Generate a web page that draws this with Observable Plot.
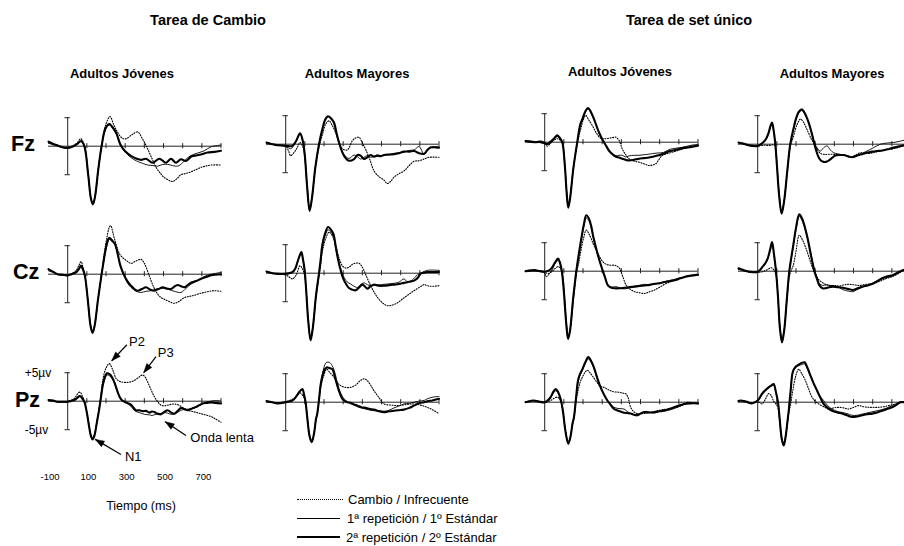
<!DOCTYPE html>
<html><head><meta charset="utf-8">
<script src="https://cdn.jsdelivr.net/npm/d3@7"></script>
<script src="https://cdn.jsdelivr.net/npm/@observablehq/plot@0.6"></script>
<style>
html,body{margin:0;padding:0;background:#fff;overflow:hidden;}
#root{position:relative;width:904px;height:546px;overflow:hidden;font-family:"Liberation Sans",Arial,sans-serif;color:#000;}
.lbl{position:absolute;white-space:nowrap;line-height:1;transform:translate(-50%,-50%);}
.h1{font-weight:bold;font-size:14.5px;}
.h2{font-weight:bold;font-size:13px;}
.row{font-weight:bold;font-size:21.5px;transform:translate(0,-50%);}
.leg{position:absolute;font-size:13px;white-space:nowrap;line-height:1;transform:translate(0,-50%);}
.sw{position:absolute;height:0;}
.panel{position:absolute;}
</style></head>
<body><div id="root"></div>
<script>
// ---------- data (time ms, amplitude µV) ----------
const TITLES = ["Tarea de Cambio", "Tarea de set único"];
const GROUPS = ["Adultos Jóvenes", "Adultos Mayores", "Adultos Jóvenes", "Adultos Mayores"];
const SITES = ["Fz", "Cz", "Pz"];
const LEGEND = ["Cambio / Infrecuente", "1ª repetición / 1º Estándar", "2ª repetición / 2º Estándar"];
const TIME_TICKS = [100, 200, 300, 400, 500, 600, 700, 800];
const TIME_LABELS = [-100, 100, 300, 500, 700];
const SCALE_BAR = [-5, 5];
const SCALE_LABELS = ["-5µv", "+5µv"];

// Fz — Tarea de Cambio, Jóvenes
const FZ1_DOT = [[-100,0.6],[-75,0.3],[-50,0],[-25,-0.2],[0,-0.2],[30,0.1],[50,0.6],[68,1.3],[87,0.2],[107,-4.8],[122,-9.2],[132,-10.1],[143,-8.8],[160,-4],[177,0],[197,3.6],[221,5.2],[240,3.8],[261,2.4],[285,1.4],[304,1.3],[335,2.0],[365,2.5],[390,1.3],[409,0.1],[435,-1.8],[461,-3.7],[485,-4.8],[504,-5.5],[530,-6.0],[548,-6.2],[570,-5.7],[591,-5.0],[615,-4.8],[643,-4.5],[670,-4.1],[696,-3.7],[720,-3.5],[748,-3.3],[800,-3.3]];
const FZ1_THIN = [[-100,0.5],[-75,0.3],[-50,0],[-25,-0.3],[0,-0.4],[30,0],[50,0.3],[70,0.8],[87,0],[107,-5],[122,-9.3],[132,-10.1],[143,-8.8],[160,-4],[177,0],[197,2.9],[217,3.7],[237,3.0],[255,2.0],[275,0.2],[300,-1.0],[330,-2.0],[360,-2.6],[390,-3.0],[417,-3.3],[445,-3.4],[470,-3.5],[495,-3.2],[522,-3.2],[548,-3.4],[574,-3.5],[600,-2.9],[626,-2.0],[652,-1.5],[678,-1.2],[713,-0.8],[748,-0.1],[800,0.2]];
const FZ1_THICK = [[-100,0.8],[-75,0.4],[-50,0.1],[-25,-0.2],[0,-0.3],[30,0],[50,0.4],[70,0.9],[87,0],[107,-5],[122,-9.3],[132,-10.2],[143,-8.8],[160,-4],[177,0],[197,3.1],[217,3.9],[237,3.2],[255,2.2],[275,0.3],[300,-0.9],[330,-1.7],[360,-2.2],[383,-2.4],[409,-2.2],[443,-2.9],[478,-2.2],[513,-2.9],[539,-2.2],[565,-2.9],[591,-2.3],[617,-2.6],[645,-1.8],[675,-1.6],[700,-1.4],[730,-1.1],[765,-1.0],[800,-0.8]];
// Fz — Tarea de Cambio, Mayores
const FZ2_DOT = [[-100,0.1],[-70,0],[-43,-0.1],[0,-0.3],[15,-1.2],[26,-2.0],[45,-1.4],[60,-0.6],[75,0.3],[90,-0.5],[100,-2.5],[112,-7.2],[125,-11.2],[137,-9.3],[155,-4.2],[174,-0.5],[191,1.6],[210,3.6],[226,4.1],[243,3.3],[261,2.0],[278,0.5],[296,-0.8],[322,-1.0],[348,0.6],[365,1.1],[383,1.2],[400,0.2],[417,-0.9],[440,-2.8],[461,-4.7],[487,-5.7],[513,-6.3],[530,-6.9],[548,-6.5],[565,-5.8],[590,-5.2],[617,-4.7],[643,-3.8],[670,-3.0],[696,-2.9],[722,-2.6],[748,-2.3],[800,-2.3]];
const FZ2_THIN = [[-100,0.3],[-70,0],[-43,-0.2],[0,-0.3],[26,-0.8],[50,0.2],[75,1.8],[90,0.4],[100,-2],[112,-7.4],[125,-11.6],[137,-9.5],[155,-4],[174,0],[191,2.5],[206,4.2],[221,4.8],[237,4.4],[252,3.6],[265,1.8],[278,0.2],[304,-1.8],[330,-2.5],[357,-1.9],[374,-2.2],[391,-2.6],[409,-2.3],[426,-2.0],[443,-2.3],[461,-2.1],[478,-1.9],[496,-2.1],[513,-1.9],[540,-1.9],[565,-1.6],[590,-1.5],[617,-1.4],[645,-1.1],[670,-1.0],[696,-0.4],[722,-1.75],[740,-1.0],[756,-0.5],[800,-0.5]];
const FZ2_THICK = [[-100,0.3],[-70,0],[-43,-0.2],[0,-0.3],[35,-0.3],[55,0.6],[75,1.9],[90,0.5],[100,-2],[112,-7.5],[125,-11.7],[137,-9.5],[155,-4],[174,0],[191,2.6],[206,4.3],[221,4.9],[237,4.5],[252,3.8],[265,2.0],[278,0.3],[304,-2.0],[330,-2.9],[357,-2.6],[375,-1.9],[391,-2.0],[409,-2.6],[426,-2.3],[443,-1.9],[461,-2.2],[478,-2.0],[496,-2.1],[513,-1.9],[540,-1.8],[565,-1.75],[590,-1.6],[617,-1.3],[645,-1.3],[670,-1.2],[685,-1.4],[696,-1.6],[722,-1.7],[740,-1.0],[756,-0.6],[800,-0.6]];
// Fz — Set único, Jóvenes
const FZ3_DOT = [[-100,0.2],[-60,0],[-30,0.1],[0,0],[14,-0.7],[30,-0.2],[50,0.4],[66,0.6],[80,0.4],[92,-0.3],[105,-4],[115,-8.8],[123,-11.2],[132,-9.8],[150,-4.5],[170,-0.3],[188,2.3],[201,3.9],[214,4.7],[228,4.0],[249,2.9],[270,1.6],[292,0.7],[310,0.6],[336,0.7],[355,0.8],[370,0.9],[388,0.3],[405,-1.2],[423,-2.2],[440,-2.9],[465,-3.3],[492,-3.5],[518,-3.8],[544,-4.1],[562,-4.0],[579,-3.8],[597,-3.0],[614,-2.3],[640,-2.0],[666,-1.75],[692,-1.5],[718,-1.2],[753,-0.8],[800,-0.5]];
const FZ3_THIN = [[-100,0.2],[-50,0.1],[0,-0.3],[14,-0.4],[31,0],[50,0.6],[66,1.0],[80,0.6],[92,0],[105,-4],[115,-8.9],[123,-11.3],[132,-9.9],[150,-4.5],[170,0],[185,2.9],[197,4.0],[212,5.2],[226,5.8],[240,5.2],[257,4.0],[270,2.8],[283,1.7],[304,0.3],[320,-0.6],[336,-1.5],[353,-2.0],[370,-2.4],[388,-2.3],[405,-2.3],[423,-2.6],[440,-2.4],[465,-2.3],[492,-2.3],[518,-2.2],[544,-2.1],[562,-2.0],[590,-1.9],[620,-1.8],[649,-1.3],[675,-1.1],[718,-0.9],[770,-0.5],[800,-0.4]];
const FZ3_THICK = [[-100,0.2],[-75,0.1],[-47,0],[-20,0.1],[0,-0.2],[15,-0.3],[31,0.1],[50,0.7],[66,1.2],[80,0.7],[92,0],[105,-4],[115,-9],[123,-11.5],[132,-10],[150,-4.5],[170,0],[185,3],[197,4.1],[212,5.4],[226,6.0],[240,5.4],[257,4.1],[270,2.9],[283,1.75],[304,0.3],[320,-0.6],[336,-1.5],[353,-2.1],[370,-2.5],[388,-2.7],[405,-2.9],[423,-3.1],[440,-3.2],[465,-3.1],[492,-2.9],[518,-2.8],[544,-2.7],[570,-2.5],[596,-2.3],[623,-2.0],[649,-1.6],[675,-1.4],[701,-1.2],[727,-1.0],[753,-0.9],[800,-0.6]];
// Fz — Set único, Mayores
const FZ4_DOT = [[-100,0.3],[-75,0.1],[-47,-0.2],[0,-0.3],[31,-0.2],[50,-0.2],[66,-0.2],[80,-0.1],[92,-0.3],[100,-3.2],[112,-8.5],[125,-11.8],[138,-10],[155,-4.7],[170,-0.5],[188,1.5],[205,3.4],[223,4.4],[240,3.8],[257,2.6],[280,0.9],[301,-0.3],[327,-1.6],[353,-1.8],[379,-1.75],[405,-1.8],[431,-1.9],[457,-2.0],[483,-2.3],[510,-1.9],[536,-1.5],[562,-1.6],[588,-1.6],[614,-1.4],[640,-1.2],[666,-1.0],[692,-0.9],[730,-0.6],[765,-0.2],[800,0]];
const FZ4_THIN = [[-100,0.2],[-75,0.1],[-47,-0.2],[0,-0.2],[31,0.4],[45,1.0],[57,1.9],[67,3.0],[75,3.6],[83,2.4],[92,0],[100,-3.4],[112,-8.8],[125,-12],[138,-9.9],[155,-4.5],[170,0],[188,2.7],[200,4.3],[215,5.5],[231,5.9],[248,5.2],[266,3.8],[280,2.3],[292,0.8],[305,-0.4],[327,-1.2],[345,-0.6],[362,-0.3],[379,-1.0],[396,-1.5],[420,-1.7],[445,-1.9],[466,-2.0],[485,-2.2],[501,-2.3],[520,-2.0],[540,-1.7],[570,-1.2],[600,-0.7],[640,0],[675,0.2],[710,0.3],[740,0.5],[765,0.7],[800,0.8]];
const FZ4_THICK = [[-100,0.3],[-75,0.1],[-47,-0.2],[0,-0.3],[31,0.4],[45,1.0],[57,2.0],[67,3.2],[75,3.8],[83,2.5],[92,0],[100,-3.5],[112,-9],[125,-12.2],[138,-10],[155,-4.5],[170,0],[188,2.9],[200,4.5],[215,5.7],[231,6.1],[248,5.3],[266,3.8],[280,2.2],[292,0.6],[305,-1.1],[318,-2.3],[331,-2.9],[344,-3.1],[357,-3.1],[370,-2.9],[388,-2.4],[405,-2.0],[427,-1.9],[449,-1.9],[470,-2.1],[492,-2.3],[510,-2.1],[527,-1.9],[549,-1.7],[570,-1.5],[597,-1.3],[623,-1.2],[650,-1.1],[675,-0.9],[710,-0.6],[765,-0.2],[800,0]];

// Cz — Tarea de Cambio, Jóvenes
const CZ1_DOT = [[-100,0.8],[-75,0.4],[-52,0],[-25,-0.1],[0,-0.2],[20,0.1],[43,0.6],[58,1.5],[70,2.2],[80,1.2],[90,-0.2],[105,-4.3],[120,-9],[130,-10.1],[141,-8.9],[158,-4.5],[177,0],[190,3.5],[205,6.5],[218,8.3],[225,8.5],[238,7.0],[252,5.3],[270,3.6],[287,2.9],[310,2.3],[330,1.9],[355,2.3],[383,2.6],[400,1.9],[426,-0.3],[448,-2.2],[470,-3.5],[487,-4.1],[504,-4.4],[530,-4.8],[556,-5.1],[580,-4.8],[609,-4.1],[635,-3.9],[661,-3.7],[687,-3.4],[713,-3.2],[740,-3.0],[765,-2.9],[800,-3.0]];
const CZ1_THIN = [[-100,0.6],[-75,0.3],[-52,-0.1],[-25,-0.2],[0,-0.3],[20,0],[43,0.3],[58,0.8],[70,1.3],[80,0.7],[90,-0.3],[105,-4.5],[120,-9.1],[130,-10.2],[141,-8.9],[158,-4.5],[177,0],[190,2.6],[200,4.4],[210,5.7],[217,6.1],[230,5.8],[247,5.1],[262,3.3],[275,1.4],[296,-0.4],[313,-1.6],[330,-2.3],[357,-3.0],[383,-3.2],[409,-3.0],[435,-2.9],[461,-2.6],[483,-2.5],[504,-2.5],[530,-2.7],[556,-3.0],[591,-3.2],[617,-2.5],[643,-1.75],[670,-1.3],[696,-0.8],[713,-0.4],[748,0],[800,0.3]];
const CZ1_THICK = [[-100,0.9],[-75,0.4],[-52,0],[-25,-0.1],[0,-0.2],[20,0],[43,0.3],[58,0.9],[70,1.5],[80,0.8],[90,-0.3],[105,-4.5],[120,-9.2],[130,-10.3],[141,-9],[158,-4.5],[177,0],[190,2.8],[200,4.7],[210,6.0],[217,6.4],[230,6.0],[247,5.3],[262,3.4],[275,1.5],[296,-0.3],[313,-1.3],[330,-2.0],[348,-2.6],[365,-2.9],[387,-2.6],[409,-2.3],[430,-2.7],[452,-2.9],[474,-2.6],[496,-2.3],[517,-2.5],[539,-2.6],[556,-2.2],[574,-1.9],[591,-2.1],[609,-2.3],[626,-1.9],[643,-1.5],[670,-1.2],[696,-0.8],[722,-0.5],[748,-0.2],[800,0]];
// Cz — Tarea de Cambio, Mayores
const CZ2_DOT = [[-100,0.2],[-70,0],[-43,-0.2],[0,-0.3],[20,-0.7],[35,-1.0],[55,-0.3],[75,1.3],[90,0.6],[99,-0.5],[108,-3.5],[118,-8.2],[130,-11.4],[142,-9.4],[158,-4.3],[174,-0.5],[183,1.5],[191,3.7],[208,6.0],[226,7.2],[243,6.6],[261,4.9],[278,2.7],[296,1.3],[313,0.9],[330,1.05],[350,1.6],[370,1.8],[385,1.7],[400,1.05],[417,-0.2],[435,-1.6],[456,-3.0],[478,-4.2],[505,-5.2],[530,-5.7],[555,-5.6],[583,-5.2],[610,-4.5],[635,-3.9],[660,-3.3],[687,-2.7],[710,-2.2],[722,-2.0],[740,-2.2],[756,-2.3],[800,-2.2]];
const CZ2_THIN = [[-100,0.3],[-70,0],[-43,-0.1],[0,-0.2],[35,0.1],[50,0.7],[61,1.8],[72,2.9],[82,3.6],[90,2.5],[99,0.5],[108,-3.5],[118,-8.4],[130,-11.6],[142,-9.4],[158,-4],[174,0],[183,2.3],[191,4.6],[205,6.6],[221,7.6],[235,7.3],[249,6.4],[262,4.2],[273,2.5],[287,0.7],[301,-0.5],[320,-1.5],[339,-1.9],[357,-2.3],[374,-2.5],[391,-2.0],[409,-1.7],[426,-2.0],[443,-2.2],[470,-2.1],[500,-2.0],[530,-1.9],[560,-1.8],[590,-1.6],[617,-1.0],[635,-1.5],[660,-1.2],[687,-0.3],[710,0.1],[739,0.5],[800,0.5]];
const CZ2_THICK = [[-100,0.3],[-70,0],[-43,-0.1],[0,-0.1],[35,0.2],[50,0.8],[61,1.9],[72,3.0],[82,3.7],[90,2.5],[99,0.5],[108,-3.5],[118,-8.5],[130,-11.8],[142,-9.5],[158,-4],[174,0],[183,2.5],[191,4.9],[205,6.9],[221,8.1],[235,7.7],[249,6.9],[262,4.5],[273,2.5],[287,0.5],[301,-1.0],[315,-1.9],[330,-2.6],[348,-2.9],[365,-3.0],[383,-2.5],[400,-2.0],[413,-2.3],[426,-2.7],[443,-2.3],[461,-2.0],[487,-2.2],[513,-2.2],[540,-2.1],[565,-2.0],[590,-1.9],[617,-1.7],[645,-1.5],[670,-1.3],[690,-0.8],[704,-0.1],[722,0.1],[739,0.2],[800,0.2]];
// Cz — Set único, Jóvenes
const CZ3_DOT = [[-100,0],[-75,0.1],[-52,0],[-25,0.1],[0,-0.2],[20,-0.4],[40,0],[52,0.4],[70,0.8],[85,0.4],[95,-1],[105,-5],[115,-9.5],[124,-11.5],[134,-10],[150,-5],[168,0],[178,1.5],[188,3.4],[203,5.8],[217,7.2],[235,6.3],[252,4.9],[270,3.6],[287,2.5],[305,1.6],[322,1.2],[345,1.05],[365,1.05],[380,0.8],[391,0.5],[408,-1.0],[426,-2.5],[448,-3.2],[470,-3.6],[496,-3.8],[522,-3.9],[548,-3.6],[574,-3.3],[600,-2.8],[626,-2.3],[652,-1.9],[678,-1.6],[704,-1.3],[730,-1.0],[765,-0.8],[800,-0.7]];
const CZ3_THIN = [[-100,0.1],[-75,0.2],[-52,0.1],[-25,0],[0,-0.3],[9,-1.0],[25,-0.4],[40,0.3],[52,1.2],[70,1.9],[80,1.3],[90,-0.2],[100,-3.5],[112,-8.9],[122,-11.8],[132,-10.4],[148,-5],[165,0],[178,2.8],[191,5.4],[205,7.9],[217,9.3],[230,8.9],[243,7.6],[252,6.1],[265,4.3],[278,2.7],[291,1.3],[304,0],[317,-1.3],[330,-2.5],[348,-2.8],[370,-2.7],[390,-2.9],[410,-3.1],[435,-3.0],[460,-2.7],[490,-2.5],[520,-2.3],[550,-2.4],[580,-2.2],[610,-2.0],[640,-1.7],[670,-1.5],[700,-1.2],[730,-1.0],[765,-0.7],[800,-0.6]];
const CZ3_THICK = [[-100,0],[-75,0.1],[-52,0.2],[-25,0],[0,-0.1],[20,0.1],[35,0.5],[52,1.4],[70,2.2],[80,1.5],[90,-0.1],[100,-3.5],[112,-9.0],[122,-11.9],[132,-10.5],[148,-5],[165,0],[178,3.0],[191,5.7],[205,8.3],[217,9.8],[230,9.3],[243,7.9],[252,6.3],[265,4.5],[278,2.8],[291,1.3],[304,0],[317,-1.3],[330,-2.5],[348,-2.9],[365,-3.0],[390,-3.0],[417,-2.9],[443,-2.8],[470,-2.7],[496,-2.6],[522,-2.5],[548,-2.4],[574,-2.2],[600,-2.1],[626,-1.9],[652,-1.75],[678,-1.6],[704,-1.3],[730,-1.0],[760,-0.8],[800,-0.6]];
// Cz — Set único, Mayores
const CZ4_DOT = [[-100,0.3],[-75,0.1],[-43,-0.2],[0,-0.2],[26,-0.1],[52,0.3],[70,0.6],[85,0.2],[96,-0.8],[106,-4.6],[116,-9.5],[127,-12],[138,-10.3],[152,-5.2],[165,-1],[176,0.2],[186,1.05],[200,3.5],[217,6.3],[235,5.4],[252,4.0],[270,2.2],[287,0.5],[305,-0.8],[322,-1.6],[348,-2.2],[374,-2.5],[400,-2.5],[426,-2.6],[452,-2.4],[478,-2.3],[504,-2.4],[530,-2.5],[565,-2.3],[600,-2.2],[635,-1.8],[670,-1.3],[705,-0.9],[740,-0.3],[760,0.2],[800,0.3]];
const CZ4_THIN = [[-100,0.4],[-75,0.2],[-43,-0.1],[0,-0.2],[26,0.7],[40,1.3],[52,2.1],[65,3.6],[75,4.9],[85,2.9],[96,-0.1],[106,-4.4],[116,-9.8],[127,-12.3],[138,-10.4],[152,-5],[165,0],[176,2.4],[186,4.4],[200,7.3],[217,9.6],[232,8.9],[248,7.3],[261,5.6],[278,3.0],[296,0.3],[309,-1.0],[322,-2.2],[340,-2.5],[360,-2.4],[380,-2.5],[400,-2.6],[425,-2.9],[450,-3.3],[475,-3.5],[496,-3.6],[515,-3.3],[540,-2.9],[570,-2.5],[600,-2.1],[630,-1.6],[660,-1.2],[690,-1.0],[720,-0.5],[750,0],[800,0.2]];
const CZ4_THICK = [[-100,0.5],[-75,0.2],[-43,-0.1],[0,-0.1],[26,0.8],[40,1.4],[52,2.2],[65,3.8],[75,5.1],[85,3.0],[96,-0.1],[106,-4.5],[116,-10],[127,-12.5],[138,-10.5],[152,-5],[165,0],[176,2.5],[186,4.6],[200,7.6],[217,10.0],[232,9.2],[248,7.5],[261,5.7],[278,2.8],[296,0],[309,-1.3],[322,-2.5],[338,-3.0],[353,-3.0],[372,-2.8],[391,-2.7],[417,-2.8],[443,-2.9],[470,-3.1],[496,-3.3],[522,-3.0],[548,-2.7],[574,-2.5],[600,-2.2],[626,-1.7],[652,-1.2],[678,-0.9],[704,-0.7],[722,-0.4],[739,-0.1],[760,0.2],[800,0.3]];

// Pz — Tarea de Cambio, Jóvenes
const PZ1_DOT = [[-100,0.2],[-75,0],[-52,-0.1],[-25,-0.1],[0,0],[35,0.5],[50,1.2],[64,1.6],[78,0.8],[87,0],[100,-1.8],[112,-4.3],[122,-6.0],[130,-6.5],[140,-5.8],[152,-3.6],[165,-1.0],[175,1.5],[183,3.7],[200,5.8],[217,6.6],[235,5.5],[252,4.0],[265,3.6],[278,3.4],[300,3.3],[330,3.4],[355,3.8],[375,4.3],[391,4.6],[405,4.2],[417,3.4],[435,2.0],[452,0.8],[470,-0.1],[487,-0.7],[504,-0.8],[522,-0.7],[548,-0.5],[574,-0.6],[600,-1.1],[626,-1.6],[650,-1.8],[675,-2.0],[696,-2.2],[720,-2.4],[748,-2.7],[770,-3.1],[800,-3.7]];
const PZ1_THIN = [[-100,0.1],[-75,0],[-52,-0.1],[-25,-0.2],[0,-0.1],[35,0.2],[50,0.5],[64,0.8],[78,0.3],[87,-0.1],[100,-2.0],[112,-4.4],[122,-6.1],[130,-6.6],[140,-5.9],[152,-3.8],[165,-1.3],[175,0.9],[183,2.6],[195,4.0],[205,4.6],[220,4.4],[235,3.8],[248,2.8],[261,1.5],[272,0.6],[282,0.1],[304,-0.3],[330,-0.9],[350,-1.7],[374,-2.0],[400,-2.3],[426,-2.4],[440,-2.5],[460,-2.3],[480,-2.2],[504,-2.0],[522,-2.1],[540,-2.3],[560,-2.2],[580,-1.8],[600,-1.5],[626,-1.4],[650,-1.3],[675,-1.0],[696,-0.6],[720,-0.2],[748,0],[770,0.1],[800,0]];
const PZ1_THICK = [[-100,0.2],[-75,0.1],[-52,-0.1],[-25,-0.1],[0,-0.1],[35,0.2],[50,0.6],[64,0.9],[78,0.4],[87,-0.1],[100,-2.0],[112,-4.5],[122,-6.2],[130,-6.7],[140,-6.0],[152,-3.8],[165,-1.3],[175,1.0],[183,2.8],[195,4.3],[205,4.9],[220,4.7],[235,4.0],[248,2.9],[261,1.6],[272,0.7],[282,0.2],[304,-0.2],[330,-0.6],[345,-1.2],[357,-1.6],[374,-1.6],[391,-1.75],[409,-1.7],[426,-2.0],[440,-1.8],[452,-1.9],[470,-2.2],[487,-2.3],[504,-1.9],[522,-1.6],[540,-2.0],[556,-2.2],[574,-1.7],[591,-1.2],[609,-1.4],[626,-1.6],[648,-1.3],[670,-1.0],[687,-0.7],[704,-0.4],[726,-0.3],[748,-0.2],[770,-0.3],[800,-0.4]];
// Pz — Tarea de Cambio, Mayores
const PZ2_DOT = [[-100,0.1],[-70,0],[-43,-0.1],[0,0.1],[35,0.5],[55,1.0],[70,1.5],[78,1.6],[92,1.0],[104,0],[112,-2.4],[125,-5.8],[136,-6.8],[148,-5.4],[158,-3.0],[165,-2.0],[175,0.5],[183,2.6],[198,4.6],[214,5.8],[230,5.2],[252,4.4],[270,3.4],[287,2.9],[310,2.6],[339,2.6],[365,3.0],[390,3.8],[409,4.1],[425,3.8],[443,3.0],[461,2.0],[487,0.8],[513,-0.3],[548,-0.5],[583,-0.6],[610,-0.5],[635,-0.4],[660,-0.3],[687,-0.4],[713,-0.6],[739,-0.9],[770,-1.4],[800,-2.0]];
const PZ2_THIN = [[-100,0.1],[-70,0],[-43,-0.2],[0,0],[35,0.3],[55,1.0],[70,1.7],[87,2.2],[96,1.2],[104,0],[112,-2.5],[125,-6.0],[136,-7.0],[148,-5.5],[158,-3.0],[165,-2.0],[175,0.8],[183,3.3],[195,5.5],[205,6.6],[214,7.0],[228,7.0],[243,6.4],[260,4.8],[270,3.2],[287,1.6],[304,0.6],[322,0.1],[339,-0.3],[357,-0.5],[374,-0.8],[395,-1.0],[417,-1.2],[440,-1.4],[461,-1.5],[487,-1.5],[513,-1.6],[540,-1.4],[565,-1.0],[590,-0.7],[617,-0.3],[645,-0.2],[670,0],[696,0.2],[722,0.3],[739,0.6],[770,0.9],[800,1.0]];
const PZ2_THICK = [[-100,0.2],[-70,0],[-43,-0.2],[0,0],[35,0.3],[55,1.0],[70,1.75],[87,2.3],[96,1.3],[104,0],[112,-2.5],[125,-6.0],[136,-7.0],[148,-5.5],[158,-3.0],[165,-2.0],[175,0.8],[183,3.2],[195,5.0],[205,5.8],[214,6.1],[228,6.0],[243,5.8],[260,4.0],[278,2.0],[292,0.8],[304,0.3],[322,0],[339,-0.1],[357,-0.4],[374,-0.6],[395,-0.9],[417,-1.0],[440,-1.2],[461,-1.3],[487,-1.6],[513,-1.75],[540,-1.6],[565,-1.5],[590,-1.4],[617,-1.3],[645,-1.0],[670,-0.6],[696,-0.2],[722,0],[744,0.2],[765,0.3],[800,0.6]];
// Pz — Set único, Jóvenes
const PZ3_DOT = [[-100,0.1],[-75,0.2],[-56,0.2],[-30,0.1],[0,0],[15,0.1],[31,0.3],[50,0.7],[66,0.9],[80,0.4],[95,-1.5],[108,-4.8],[123,-7.0],[135,-6.0],[145,-4],[153,-2.8],[163,0],[174,2.0],[185,3.5],[197,4.4],[210,5.2],[223,5.6],[240,5.0],[266,3.8],[290,2.8],[310,2.6],[327,2.3],[344,2.0],[365,1.8],[388,1.75],[405,1.6],[423,1.5],[435,0.8],[449,-0.9],[466,-1.7],[483,-2.0],[510,-2.0],[536,-1.9],[562,-1.7],[588,-1.5],[614,-1.3],[640,-1.2],[666,-1.1],[692,-0.9],[718,-0.5],[744,0],[770,-0.1],[800,-0.2]];
const PZ3_THIN = [[-100,0],[-75,0.1],[-56,0.3],[-30,0],[0,-0.1],[15,0.2],[31,0.7],[45,1.6],[57,2.0],[70,1.6],[83,0.5],[95,-1.5],[108,-5],[123,-7.2],[135,-6.0],[145,-3.8],[153,-2.6],[163,0.5],[174,3.6],[185,4.8],[197,5.6],[212,6.8],[228,7.6],[243,7.0],[257,5.9],[275,4.0],[292,2.5],[310,1.3],[327,0.3],[345,-0.4],[362,-0.9],[383,-1.1],[414,-1.2],[430,-1.6],[449,-2.0],[470,-2.2],[492,-2.1],[510,-1.8],[530,-1.6],[550,-1.8],[575,-1.9],[600,-1.6],[623,-1.3],[649,-1.4],[675,-1.1],[701,-0.7],[727,-0.4],[760,-0.1],[800,-0.3]];
const PZ3_THICK = [[-100,0],[-75,0.2],[-56,0.3],[-30,0.1],[0,0],[15,0.3],[31,0.9],[45,1.8],[57,2.3],[70,1.8],[83,0.6],[95,-1.5],[108,-5],[123,-7.3],[135,-6.0],[145,-3.8],[153,-2.6],[163,0.5],[174,3.8],[185,5.0],[197,5.8],[212,7.0],[228,7.9],[243,7.2],[257,6.1],[275,4.2],[292,2.6],[310,1.3],[327,0.3],[345,-0.5],[362,-1.2],[383,-1.5],[405,-1.75],[427,-1.9],[449,-2.0],[466,-2.2],[483,-2.3],[500,-2.0],[518,-1.75],[544,-1.8],[570,-1.75],[597,-1.6],[623,-1.5],[649,-1.2],[675,-0.9],[701,-0.6],[727,-0.3],[760,-0.2],[800,-0.2]];
// Pz — Set único, Mayores
const PZ4_DOT = [[-100,0.1],[-90,0.2],[-60,0],[-30,-0.2],[0,0.1],[23,-0.3],[40,0.5],[57,1.5],[70,1.2],[83,0.2],[95,-0.3],[106,-1],[115,-3.5],[126,-6.5],[136,-7.3],[146,-6],[155,-3.8],[162,-2],[172,-0.3],[183,2.0],[198,4.5],[214,5.8],[230,5.0],[249,3.8],[266,2.3],[283,0.9],[300,0.2],[318,-0.3],[344,-0.8],[370,-1.2],[396,-1.0],[423,-0.9],[449,-1.0],[475,-1.2],[501,-0.9],[527,-0.6],[553,-0.8],[579,-0.9],[605,-0.9],[631,-0.9],[657,-0.8],[683,-0.6],[710,-0.4],[736,-0.2],[765,0],[800,0]];
const PZ4_THIN = [[-100,0.2],[-90,0.3],[-60,0.1],[-30,-0.1],[0,0.2],[23,1.3],[40,2.0],[57,2.5],[70,2.8],[83,3.0],[95,1.7],[106,0],[115,-3],[126,-6.4],[136,-7.5],[146,-6],[155,-3.5],[162,-1.5],[172,2],[183,5.1],[197,6.0],[214,6.4],[230,6.6],[245,6.7],[260,5.8],[275,4.6],[292,3.3],[310,2.1],[327,1.0],[344,0.3],[365,-0.6],[388,-1.2],[414,-1.6],[440,-1.8],[466,-2.0],[492,-2.3],[518,-2.3],[544,-2.1],[570,-1.9],[596,-1.7],[623,-1.5],[649,-1.3],[675,-1.0],[701,-0.6],[722,-0.3],[744,0.1],[765,0.1],[800,0]];
const PZ4_THICK = [[-100,0.2],[-90,0.3],[-60,0.1],[-30,-0.2],[0,0.3],[23,1.5],[40,2.1],[57,2.6],[70,2.9],[83,3.2],[95,1.8],[106,0],[115,-3],[126,-6.5],[136,-7.6],[146,-6],[155,-3.5],[162,-1.5],[172,2],[183,5.3],[197,6.2],[214,6.6],[230,6.9],[245,7.0],[260,6.0],[275,4.7],[292,3.3],[310,2.0],[327,0.8],[344,-0.3],[365,-1.0],[388,-1.5],[414,-1.8],[440,-2.0],[466,-2.3],[492,-2.6],[518,-2.5],[544,-2.3],[570,-2.1],[596,-2.0],[623,-1.8],[649,-1.5],[675,-1.2],[701,-0.9],[722,-0.5],[744,0],[765,0],[800,-0.2]];

// component annotations on Pz (Tarea de Cambio, Jóvenes): text position, arrow tail, arrow tip
const ANNOT_LABELS = ["P2", "P3", "N1", "Onda lenta"];
const ANNOT_TEXT = [[320, 10.4], [470, 8.5], [299, -9.8], [640, -6.5]];
const ANNOT_TAIL = [[309, 9.9], [461, 7.8], [278, -9.35], [617, -6.0]];
const ANNOT_TIP = [[230, 7.1], [397, 5.0], [144, -6.7], [509, -3.6]];

// ---------- layout ----------
const PX_PER_MS = 0.1917, PX_PER_UV = 5.7;
const T_MIN = -100, T_MAX = 800, V_MIN = -15, V_MAX = 11;
const COL_ZERO_X = [66.7, 285, 544, 757];
const ROW_BASE_Y = [[145.3, 143.3, 141.7, 143.3], [273.3, 272.7, 271, 271], [401, 401.7, 401.7, 401.7]];
const SERIES = [
  [[FZ1_DOT, FZ1_THIN, FZ1_THICK], [FZ2_DOT, FZ2_THIN, FZ2_THICK], [FZ3_DOT, FZ3_THIN, FZ3_THICK], [FZ4_DOT, FZ4_THIN, FZ4_THICK]],
  [[CZ1_DOT, CZ1_THIN, CZ1_THICK], [CZ2_DOT, CZ2_THIN, CZ2_THICK], [CZ3_DOT, CZ3_THIN, CZ3_THICK], [CZ4_DOT, CZ4_THIN, CZ4_THICK]],
  [[PZ1_DOT, PZ1_THIN, PZ1_THICK], [PZ2_DOT, PZ2_THIN, PZ2_THICK], [PZ3_DOT, PZ3_THIN, PZ3_THICK], [PZ4_DOT, PZ4_THIN, PZ4_THICK]]
];
const FONT = "'Liberation Sans', Arial, sans-serif";
const root = document.getElementById("root");

function addLabel(text, cls, x, y) {
  const d = document.createElement("div");
  d.className = "lbl " + cls;
  d.textContent = text;
  d.style.left = x + "px"; d.style.top = y + "px";
  root.appendChild(d);
  return d;
}
addLabel(TITLES[0], "h1", 208, 20);
addLabel(TITLES[1], "h1", 689, 20);
[[122, 73], [357, 73], [620, 71], [832, 73]].forEach(([x, y], i) => addLabel(GROUPS[i], "h2", x, y));
const rowLblX = [11, 13, 15];
SITES.forEach((s, r) => addLabel(s, "row", rowLblX[r], ROW_BASE_Y[r][0]));
addLabel("Tiempo (ms)", "", 141, 506).style.fontSize = "12.5px";

const rows = arr => arr.map(([t, v]) => ({t, v}));
const W = (T_MAX - T_MIN) * PX_PER_MS;
const H = (V_MAX - V_MIN) * PX_PER_UV;

function arrowHead(i) {
  const [tt, tv] = ANNOT_TAIL[i], [pt, pv] = ANNOT_TIP[i];
  const dx = (pt - tt) * PX_PER_MS, dy = (pv - tv) * PX_PER_UV;
  const L = Math.hypot(dx, dy), ux = dx / L, uy = dy / L;
  const len = 9, half = 3.2;
  const bx = -ux * len, by = -uy * len, px = -uy, py = ux;
  return [[0, 0], [bx + px * half, by + py * half], [bx - px * half, by - py * half], [0, 0]]
    .map(([x, y]) => ({id: i, t: pt + x / PX_PER_MS, v: pv + y / PX_PER_UV}));
}

function panel(r, c) {
  const [dot, thin, thick] = SERIES[r][c];
  const marks = [
    Plot.ruleY([0], {x1: T_MIN, x2: T_MAX, stroke: "#222", strokeWidth: 1}),
    Plot.ruleX(TIME_TICKS, {y1: -0.45, y2: 0.45, stroke: "#222", strokeWidth: 1}),
    Plot.ruleX([0], {y1: SCALE_BAR[0], y2: SCALE_BAR[1], stroke: "#333", strokeWidth: 1.1}),
    Plot.ruleY(SCALE_BAR, {x1: -14, x2: 14, stroke: "#333", strokeWidth: 1.1}),
    Plot.line(rows(dot), {x: "t", y: "v", curve: "catmull-rom", stroke: "#000", strokeWidth: 1.1, strokeDasharray: "1,1.6"}),
    Plot.line(rows(thick), {x: "t", y: "v", curve: "catmull-rom", stroke: "#000", strokeWidth: 2.1}),
    Plot.line(rows(thin), {x: "t", y: "v", curve: "catmull-rom", stroke: "#000", strokeWidth: 0.9})
  ];
  if (r === 2 && c === 0) {
    const ann = ANNOT_LABELS.map((label, i) => ({label, i,
      tx: ANNOT_TEXT[i][0], tv: ANNOT_TEXT[i][1],
      at: ANNOT_TAIL[i][0], av: ANNOT_TAIL[i][1], pt: ANNOT_TIP[i][0], pv: ANNOT_TIP[i][1]}));
    marks.push(
      Plot.text(SCALE_BAR, {x: 0, y: d => d, text: (d, i) => SCALE_LABELS[i], textAnchor: "start", dx: -43, fontSize: 12}),
      Plot.text(TIME_LABELS, {x: d => d, frameAnchor: "bottom", text: d => String(d), dx: 1.5, dy: -9.5, lineAnchor: "middle", fontSize: 9.5}),
      Plot.link(ann, {x1: "at", y1: "av", x2: "pt", y2: "pv", stroke: "#000", strokeWidth: 1.2}),
      Plot.line(ANNOT_LABELS.flatMap((_, i) => arrowHead(i)), {x: "t", y: "v", z: "id", fill: "#000", stroke: "#000", strokeWidth: 0.5}),
      Plot.text(ann, {x: "tx", y: "tv", text: "label", textAnchor: "start", lineAnchor: "middle", fontSize: 13})
    );
  }
  const svg = Plot.plot({
    width: W, height: H,
    marginTop: 0, marginRight: 0, marginBottom: 0, marginLeft: 0,
    x: {domain: [T_MIN, T_MAX], axis: null},
    y: {domain: [V_MIN, V_MAX], axis: null},
    style: {background: "transparent", overflow: "visible", maxWidth: "none", fontFamily: FONT, color: "#000"},
    marks
  });
  const div = document.createElement("div");
  div.className = "panel";
  div.style.left = (COL_ZERO_X[c] + T_MIN * PX_PER_MS) + "px";
  div.style.top = (ROW_BASE_Y[r][c] - V_MAX * PX_PER_UV) + "px";
  div.style.width = W + "px"; div.style.height = H + "px";
  div.appendChild(svg);
  root.appendChild(div);
}
for (let r = 0; r < 3; r++) for (let c = 0; c < 4; c++) panel(r, c);

// legend
const legY = [499, 518, 537];
const legStyle = ["1.3px dotted #000", "1px solid #000", "2px solid #000"];
const legTextX = [348, 347, 346];
LEGEND.forEach((txt, i) => {
  const sw = document.createElement("div");
  sw.className = "sw";
  sw.style.left = "297px"; sw.style.width = (i === 0 ? 46 : 43) + "px";
  sw.style.top = (legY[i] - (i === 2 ? 1 : 0.5)) + "px";
  sw.style.borderTop = legStyle[i];
  root.appendChild(sw);
  const t = document.createElement("div");
  t.className = "leg"; t.textContent = txt;
  t.style.left = legTextX[i] + "px"; t.style.top = legY[i] + "px";
  root.appendChild(t);
});
</script></body></html>
